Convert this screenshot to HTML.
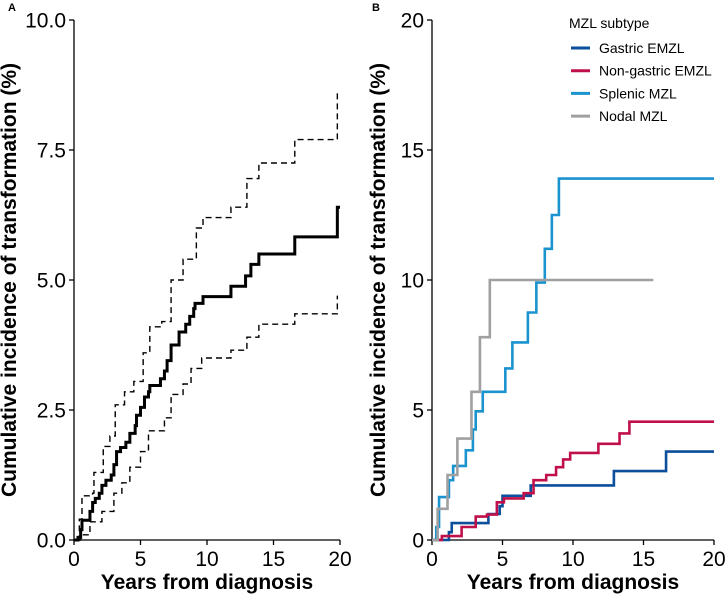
<!DOCTYPE html>
<html><head><meta charset="utf-8"><style>
body{margin:0;background:#fff;font-family:"Liberation Sans",Arial,sans-serif}
svg text{font-family:"Liberation Sans",Arial,sans-serif}
</style></head><body>
<svg id="c" width="725" height="595" viewBox="0 0 725 595" xmlns="http://www.w3.org/2000/svg"></svg>
<script>
// Panel A data: [years, cumulative incidence %]
const aMean=[[0,0],[0.3,0.05],[0.5,0.2],[0.6,0.38],[1.2,0.55],[1.4,0.72],[1.6,0.8],[1.9,0.9],[2.1,1.05],[2.4,1.15],[2.8,1.25],[3.0,1.45],[3.2,1.7],[3.5,1.78],[3.9,1.88],[4.2,2.05],[4.6,2.2],[4.7,2.4],[5.0,2.55],[5.3,2.75],[5.6,2.85],[5.7,2.97],[6.5,3.1],[6.8,3.25],[7.0,3.45],[7.3,3.75],[7.9,4.0],[8.4,4.15],[8.7,4.3],[9.0,4.45],[9.1,4.55],[9.7,4.68],[11.8,4.88],[12.9,5.08],[13.3,5.3],[13.9,5.5],[16.6,5.83],[19.8,6.4],[20,6.4]];
const aUpper=[[0.3,0],[0.4,0.4],[0.6,0.85],[1.4,0.9],[1.5,1.3],[2.2,1.8],[2.7,2.0],[3.1,2.6],[3.8,2.85],[4.5,3.05],[5.2,3.6],[5.7,4.1],[6.6,4.2],[7.3,5.0],[8.2,5.4],[9.2,6.0],[9.7,6.2],[11.8,6.4],[13.0,6.95],[13.9,7.25],[16.6,7.7],[19.8,8.6]];
const aLower=[[0.3,0],[0.5,0.1],[1.2,0.35],[2.1,0.55],[3.0,0.9],[3.6,1.1],[4.2,1.4],[5.0,1.7],[5.6,2.1],[6.8,2.35],[7.3,2.8],[8.2,3.0],[8.8,3.3],[9.6,3.5],[11.8,3.65],[13.0,3.9],[13.9,4.15],[16.6,4.35],[19.8,4.7]];
const aYTicks=[0,2.5,5,7.5,10];
const aYLabels=["0.0","2.5","5.0","7.5","10.0"];
const xTicks=[0,5,10,15,20];
// Panel B data
const bNames=["Gastric EMZL","Non-gastric EMZL","Splenic MZL","Nodal MZL"];
const bColors=["#0b4f9c","#c0104a","#1a93cf","#a0a0a0"];
const bGastric=[[0,0],[1.2,0.3],[1.4,0.65],[4.0,1.0],[4.8,1.3],[5.0,1.7],[7.0,2.1],[12.9,2.65],[16.6,3.4],[20,3.4]];
const bNonGastric=[[0,0],[0.7,0.15],[2.1,0.5],[3.1,0.9],[3.9,0.98],[4.6,1.45],[5.1,1.6],[6.5,1.8],[7.2,2.3],[8.1,2.5],[8.8,2.8],[9.3,3.1],[9.8,3.35],[11.8,3.7],[13.3,4.1],[14.0,4.55],[20,4.55]];
const bSplenic=[[0,0],[0.3,0.5],[0.5,1.65],[1.2,2.3],[1.5,2.85],[2.4,3.45],[2.9,4.25],[3.1,4.95],[3.6,5.7],[5.2,6.6],[5.7,7.6],[6.8,8.75],[7.4,9.9],[8.0,11.2],[8.5,12.5],[9.0,13.9],[20,13.9]];
const bNodal=[[0,0],[0.4,1.2],[1.1,2.5],[1.8,3.9],[2.8,5.7],[3.4,7.8],[4.1,10.0],[15.7,10.0]];
const bYTicks=[0,5,10,15,20];

const svg=document.getElementById('c');
const NS="http://www.w3.org/2000/svg";
function el(t,a,p){const e=document.createElementNS(NS,t);for(const k in a)e.setAttribute(k,a[k]);(p||svg).appendChild(e);return e;}
function panel(x0,x1,y0,y1,ymax,yTicks,yLabels,letter,lx,name,ytOff){
  const g=el('g',{});
  
  
  const sx=v=>x0+(x1-x0)*v/20, sy=v=>y0-(y0-y1)*v/ymax;
  const ax=el('path',{d:`M${x0},${y1}V${y0}H${x1}`,stroke:'#000','stroke-width':1.3,fill:'none'},g);
  
  
  yTicks.forEach((v,i)=>{
    el('line',{x1:x0-5,x2:x0,y1:sy(v),y2:sy(v),stroke:'#000','stroke-width':1.3},g);
    const t=el('text',{x:x0-8,y:sy(v)+7.5,'text-anchor':'end','font-size':21,fill:'#000'},g);t.textContent=yLabels[i];
    
    
  });
  xTicks.forEach(v=>{
    el('line',{x1:sx(v),x2:sx(v),y1:y0,y2:y0+5,stroke:'#000','stroke-width':1.3},g);
    const t=el('text',{x:sx(v),y:y0+26,'text-anchor':'middle','font-size':21,fill:'#000'},g);t.textContent=v;
    
    
  });
  const xt=el('text',{x:(x0+x1)/2,y:589,'text-anchor':'middle','font-size':21,'font-weight':'bold'},g);xt.textContent='Years from diagnosis';
  
  
  const yt=el('text',{transform:`translate(${x0-ytOff},${(y0+y1)/2}) rotate(-90)`,'text-anchor':'middle','font-size':21,'font-weight':'bold'},g);yt.textContent='Cumulative incidence of transformation (%)';
  
  
  const L=el('text',{x:lx,y:11,'font-size':11,'font-weight':'bold'},g);L.textContent=letter;
  
  
  return {g,sx,sy};
}
function step(p,data,col,w,dash,name){
  let d='';data.forEach((pt,i)=>{d+= i?`H${p.sx(pt[0])}V${p.sy(pt[1])}`:`M${p.sx(pt[0])},${p.sy(pt[1])}`;});
  const e=el('path',{d,stroke:col,'stroke-width':w,fill:'none','stroke-dasharray':dash||'none'},p.g);
  
  
}
const A=panel(74,340,540,20,10,aYTicks,aYLabels,'A',8,'panel-a',58);
step(A,aUpper,'#000',1.4,'6,4','upper-ci-line');
step(A,aLower,'#000',1.4,'6,4','lower-ci-line');
step(A,aMean,'#000',3,null,'cumulative-incidence-line');
const B=panel(432,714,540,20,20,bYTicks,bYTicks.map(String),'B',372,'panel-b',47);
[bGastric,bNonGastric,bSplenic,bNodal].forEach((s,i)=>step(B,s,bColors[i],2.6,null,'series-'+bNames[i].toLowerCase().replace(/ /g,'-')));
const lt=el('text',{x:569,y:28,'font-size':14},B.g);lt.textContent='MZL subtype';


bNames.forEach((n,i)=>{
  const y=48+i*22.7;
  const g=el('g',{},B.g);
  
  
  el('line',{x1:571,x2:590,y1:y,y2:y,stroke:bColors[i],'stroke-width':3},g);
  const t=el('text',{x:599,y:y+5,'font-size':14},g);t.textContent=n;
});
</script>
</body></html>
